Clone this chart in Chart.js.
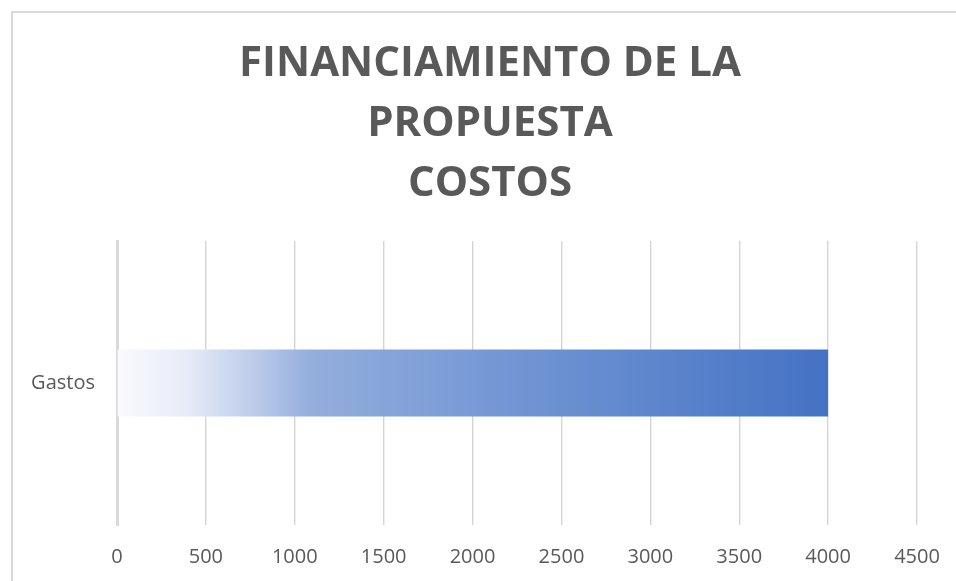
<!DOCTYPE html>
<html>
<head>
<meta charset="utf-8">
<script src="https://cdn.jsdelivr.net/npm/chart.js@4"></script>
<style>
  html, body { margin: 0; padding: 0; background: #fff; }
  #wrap { position: relative; width: 956px; height: 581px; overflow: hidden; }
  #frame { position: absolute; left: 11px; top: 11px; width: 1000px; height: 1000px;
           border: 2px solid #d9d9d9; box-sizing: border-box; }
  #chart { position: absolute; left: 0; top: 0; }
</style>
</head>
<body>
<div id="wrap">
  <div id="frame"></div>
  <canvas id="chart" width="956" height="581"></canvas>
</div>
<script>
const categories = ["Gastos"];
const costValues = [4000];
const titleLines = ["FINANCIAMIENTO DE LA", "PROPUESTA", "COSTOS"];
const axisMax = 4500;
const tickStep = 500;

function barGradient(context) {
  const chart = context.chart;
  const area = chart.chartArea;
  if (!area) return "#4472C4";
  const x0 = chart.scales.x.getPixelForValue(0);
  const x1 = chart.scales.x.getPixelForValue(costValues[0]);
  const g = chart.ctx.createLinearGradient(x0, 0, x1, 0);
  g.addColorStop(0, "#f9fafd");
  g.addColorStop(0.1, "#e6ebf7");
  g.addColorStop(0.2, "#b9c9e9");
  g.addColorStop(0.27, "#94aedd");
  g.addColorStop(0.5, "#789ad6");
  g.addColorStop(1, "#4472C4");
  return g;
}

const ctx = document.getElementById("chart").getContext("2d");
new Chart(ctx, {
  type: "bar",
  data: {
    labels: categories,
    datasets: [
      {
        label: "Costos",
        data: costValues,
        backgroundColor: barGradient,
        borderWidth: 0,
        categoryPercentage: 1,
        barPercentage: 0.236,
      },
    ],
  },
  options: {
    indexAxis: "y",
    responsive: false,
    animation: false,
    layout: {
      padding: { left: 24, right: 0, top: 0, bottom: 0 },
    },
    scales: {
      x: {
        min: 0,
        max: axisMax,
        ticks: {
          stepSize: tickStep,
          color: "#595959",
          font: { family: "Open Sans", size: 20 },
          padding: 20,
          callback: (value) => String(value),
        },
        grid: { color: "#d4d4d4", lineWidth: 1.4, drawTicks: false },
        border: { display: false },
        afterFit: (scale) => {
          scale.paddingRight = 39;
          scale.height = 56;
        },
      },
      y: {
        ticks: {
          color: "#595959",
          font: { family: "Open Sans", size: 20 },
          padding: 22,
        },
        grid: { display: false, drawTicks: false },
        border: { display: true, color: "#d9d9d9", width: 3 },
        afterFit: (scale) => {
          scale.width = 93;
        },
      },
    },
    plugins: {
      legend: { display: false },
      tooltip: { enabled: false },
      title: {
        display: true,
        text: titleLines,
        color: "#595959",
        font: { family: "Open Sans", size: 42, weight: "bold", lineHeight: 60 / 42 },
        padding: { top: 34, bottom: 27 },
      },
    },
  },
});
</script>
</body>
</html>
